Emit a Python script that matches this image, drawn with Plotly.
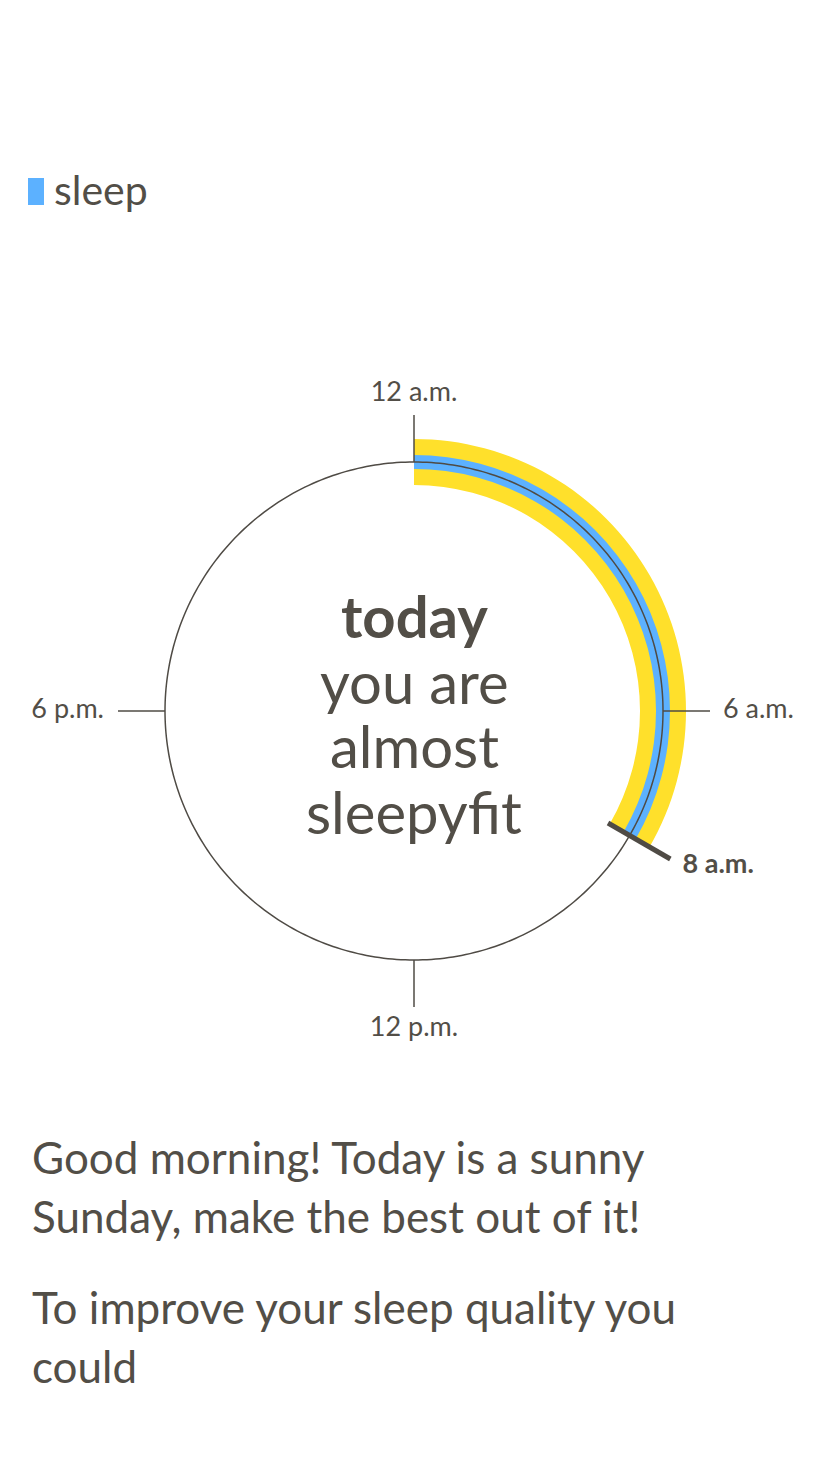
import plotly.graph_objects as go

# ---- data ----
sleep_start_hour = [0]
sleep_end_hour = [8]
series_names = ["sleep"]
tick_hours = [0, 6, 12, 18]
tick_labels = ["12 a.m.", "6 a.m.", "12 p.m.", "6 p.m."]
wake_hour = [8]
wake_label = ["8 a.m."]
center_lines = ["<b>today</b>", "you are", "almost", "sleepyfit"]
message_lines = ["Good morning! Today is a sunny",
                 "Sunday, make the best out of it!",
                 "To improve your sleep quality you",
                 "could"]

# ---- style ----
W, H = 828, 1472
CX, CY = 414, 711          # clock center in px (from top)
RMAX = 400
TEXT = "#524E47"
LINE = "#4F4B45"
YELLOW = "#FFE02B"
BLUE = "#5CB1FF"
FONT = "Lato"
R_CIRCLE = 249

def h2deg(h):
    return h * 360.0 / 24.0

def px(x):
    return x / W

def py(y):
    return 1 - y / H

fig = go.Figure()

# yellow band
mid = [(s + e) / 2 for s, e in zip(sleep_start_hour, sleep_end_hour)]
wid = [e - s for s, e in zip(sleep_start_hour, sleep_end_hour)]
fig.add_trace(go.Barpolar(
    theta=[h2deg(m) for m in mid], width=[h2deg(w) for w in wid],
    base=[226], r=[46], marker=dict(color=YELLOW, line=dict(width=0)),
    showlegend=False, hoverinfo="skip"))
# blue sleep band
fig.add_trace(go.Barpolar(
    theta=[h2deg(m) for m in mid], width=[h2deg(w) for w in wid],
    base=[242], r=[14], marker=dict(color=BLUE, line=dict(width=0)),
    name=series_names[0], showlegend=False))

# clock circle
circ_t = [i for i in range(0, 361)]
fig.add_trace(go.Scatterpolar(
    theta=circ_t, r=[R_CIRCLE] * len(circ_t), mode="lines",
    line=dict(color=LINE, width=1.5), showlegend=False, hoverinfo="skip"))

# hour ticks
tt, tr = [], []
for h in tick_hours:
    tt += [h2deg(h), h2deg(h), None]
    tr += [R_CIRCLE, 296, None]
fig.add_trace(go.Scatterpolar(
    theta=tt, r=tr, mode="lines", line=dict(color=LINE, width=1.5),
    showlegend=False, hoverinfo="skip", connectgaps=False))

# tick labels
label_r = {0: 317, 6: 309, 12: 318, 18: 310}
label_pos = {0: "middle center", 6: "middle right", 12: "middle center", 18: "middle left"}
for h, lab in zip(tick_hours, tick_labels):
    fig.add_trace(go.Scatterpolar(
        theta=[h2deg(h)], r=[label_r[h]], mode="text", text=[lab],
        textposition=label_pos[h], textfont=dict(family=FONT, size=27, color=TEXT),
        showlegend=False, hoverinfo="skip", cliponaxis=False))

# wake marker
fig.add_trace(go.Scatterpolar(
    theta=[h2deg(wake_hour[0])] * 2, r=[224, 296], mode="lines",
    line=dict(color=LINE, width=5), showlegend=False, hoverinfo="skip"))
fig.add_trace(go.Scatterpolar(
    theta=[h2deg(wake_hour[0])], r=[310], mode="text", text=["<b>" + wake_label[0] + "</b>"],
    textposition="middle right", textfont=dict(family=FONT, size=27, color=TEXT),
    showlegend=False, hoverinfo="skip", cliponaxis=False))

dom_x = [px(CX - RMAX), px(CX + RMAX)]
dom_y = [py(CY + RMAX), py(CY - RMAX)]

fig.update_layout(
    width=W, height=H, autosize=False,
    margin=dict(l=0, r=0, t=0, b=0),
    paper_bgcolor="white", plot_bgcolor="white",
    polar=dict(
        domain=dict(x=dom_x, y=dom_y),
        bgcolor="white",
        hole=0,
        radialaxis=dict(range=[0, RMAX], visible=False, showgrid=False),
        angularaxis=dict(rotation=90, direction="clockwise", visible=False,
                         showgrid=False, showline=False),
        barmode="overlay",
    ),
    showlegend=False,
    font=dict(family=FONT, color=TEXT),
)

# legend (custom)
fig.add_shape(type="rect", xref="paper", yref="paper",
              x0=px(28), x1=px(44), y0=py(205), y1=py(178),
              fillcolor=BLUE, line=dict(width=0))
fig.add_annotation(x=px(52), y=py(189), xref="paper", yref="paper",
                   text=series_names[0], showarrow=False, xanchor="left", yanchor="middle",
                   font=dict(family=FONT, size=41, color=TEXT))

# center text
center_y = [615, 681, 746, 811]
for txt, yy in zip(center_lines, center_y):
    fig.add_annotation(x=px(CX), y=py(yy), xref="paper", yref="paper",
                       text=txt, showarrow=False, xanchor="center", yanchor="middle",
                       font=dict(family=FONT, size=58, color=TEXT))

# message text
msg_y = [1157, 1216, 1307, 1366]
for txt, yy in zip(message_lines, msg_y):
    fig.add_annotation(x=px(30), y=py(yy), xref="paper", yref="paper",
                       text=txt, showarrow=False, xanchor="left", yanchor="middle",
                       font=dict(family=FONT, size=44, color=TEXT))

fig.write_html("out.html", config={"displayModeBar": False},
               post_script="document.body.style.margin='0';document.body.style.overflow='hidden';")
